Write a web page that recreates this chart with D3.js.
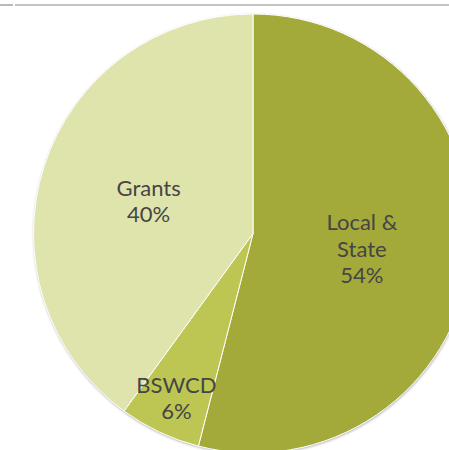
<!DOCTYPE html>
<html>
<head>
<meta charset="utf-8">
<script src="https://cdn.jsdelivr.net/npm/d3@7"></script>
<style>
  html, body { margin: 0; padding: 0; background: #fff; }
  svg { display: block; }
  .lbl { font-family: Lato, "Open Sans", sans-serif; font-size: 22px; font-weight: 400; fill: #454545; }
</style>
</head>
<body>
<svg id="pie-chart" width="449" height="450"></svg>
<script>
// ── data ─────────────────────────────────────────
const categories = ['Local & State', 'BSWCD', 'Grants'];
const labelLines = [['Local &', 'State'], ['BSWCD'], ['Grants']];
const shares = [54, 6, 40];
const colors = ['#a3aa39', '#bdc652', '#dfe4ad'];

function drawPie() {
  const svg = d3.select('#pie-chart');
  svg.selectAll('*').remove();
  const W = 449, H = 450;
  const cx = 253, cy = 233.5, r = 219.5;

  // thin rule across the top
  svg.append('line').attr('x1', 0).attr('x2', 13).attr('y1', 5).attr('y2', 5)
    .attr('stroke', '#8a8a8a').attr('stroke-width', 1.2);
  svg.append('line').attr('x1', 15).attr('x2', W).attr('y1', 5).attr('y2', 5)
    .attr('stroke', '#8a8a8a').attr('stroke-width', 1.2);

  const defs = svg.append('defs');
  const f = defs.append('filter').attr('id', 'shadow')
    .attr('x', '-10%').attr('y', '-10%').attr('width', '120%').attr('height', '120%');
  f.append('feGaussianBlur').attr('stdDeviation', 1);

  const g = svg.append('g').attr('transform', `translate(${cx},${cy})`);

  // soft edge shadow
  g.append('circle').attr('cx', 0.5).attr('cy', 1).attr('r', r + 0.5)
    .attr('fill', '#bcbcbc').attr('filter', 'url(#shadow)');

  const pie = d3.pie().sort(null).value(d => d.value);
  const arcs = pie(categories.map((c, i) => ({ name: c, value: shares[i], i })));
  const arc = d3.arc().innerRadius(0).outerRadius(r);

  g.selectAll('path.slice').data(arcs).enter().append('path')
    .attr('class', 'slice')
    .attr('d', arc)
    .attr('fill', d => colors[d.data.i])
    .attr('stroke', '#fff')
    .attr('stroke-width', 1);

  const lineH = 26.5;
  arcs.forEach(d => {
    const small = d.endAngle - d.startAngle < 0.6;
    const lr = small ? r * 0.82 : r * 0.5;
    const [lx, ly] = d3.arc().innerRadius(lr).outerRadius(lr).centroid(d);
    const lines = labelLines[d.data.i].concat([d.data.value + '%']);
    const top = ly - (lines.length - 1) * lineH / 2 + 9.5;
    const t = g.append('text').attr('class', 'lbl').attr('text-anchor', 'middle');
    lines.forEach((s, k) => {
      t.append('tspan').attr('x', lx).attr('y', top + k * lineH).text(s);
    });
  });
}

drawPie();
</script>
</body>
</html>
